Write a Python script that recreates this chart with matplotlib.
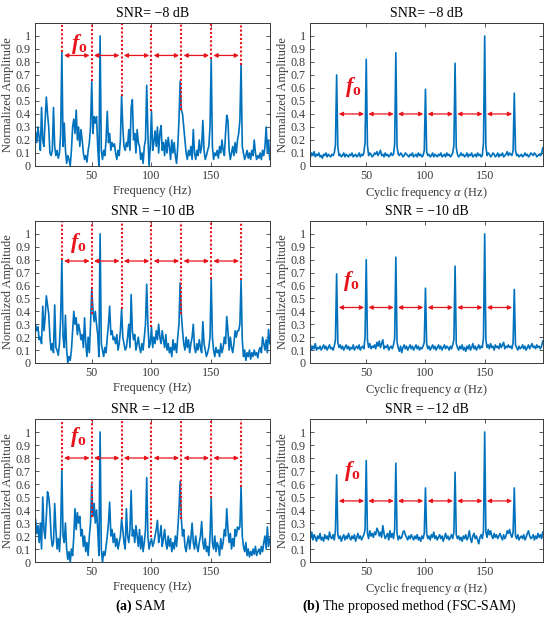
import numpy as np
import matplotlib.pyplot as plt

plt.rcParams['font.family'] = ['Liberation Serif', 'DejaVu Serif']
plt.rcParams['mathtext.fontset'] = 'custom'
plt.rcParams['mathtext.rm'] = 'Liberation Serif'
plt.rcParams['mathtext.it'] = 'Liberation Serif:italic'
plt.rcParams['mathtext.bf'] = 'Liberation Serif:bold'
plt.rcParams['mathtext.bfit'] = 'Liberation Serif:italic:bold'

# frequency grid (Hz), 1 Hz steps
freq = np.arange(2, 200)

# SAM spectra (left column)
sam_m8 = [
    0.20, 0.26, 0.18, 0.30, 0.22, 0.12, 0.45, 0.20, 0.15, 0.35,
    0.53, 0.40, 0.30, 0.10, 0.08, 0.12, 0.45, 0.15, 0.08, 0.12,
    0.06, 0.10, 0.25, 0.88, 0.15, 0.33, 0.12, 0.02, 0.08, 0.05,
    0.00, 0.12, 0.30, 0.36, 0.25, 0.43, 0.20, 0.30, 0.15, 0.28,
    0.20, 0.10, 0.05, 0.08, 0.03, 0.12, 0.18, 0.30, 0.65, 0.25,
    0.38, 0.33, 0.38, 0.15, 0.00, 1.00, 0.12, 0.05, 0.12, 0.08,
    0.20, 0.42, 0.18, 0.25, 0.12, 0.18, 0.15, 0.17, 0.10, 0.05,
    0.12, 0.08, 0.20, 0.54, 0.30, 0.15, 0.12, 0.18, 0.15, 0.28,
    0.12, 0.45, 0.51, 0.20, 0.25, 0.10, 0.28, 0.18, 0.15, 0.05,
    0.10, 0.02, 0.15, 0.20, 0.62, 0.25, 0.00, 0.15, 0.42, 0.12,
    0.18, 0.27, 0.15, 0.30, 0.10, 0.25, 0.31, 0.12, 0.18, 0.08,
    0.20, 0.10, 0.22, 0.15, 0.05, 0.20, 0.10, 0.18, 0.08, 0.02,
    0.15, 0.35, 0.65, 0.43, 0.40, 0.30, 0.20, 0.10, 0.05, 0.12,
    0.08, 0.15, 0.05, 0.28, 0.10, 0.05, 0.12, 0.08, 0.20, 0.10,
    0.15, 0.35, 0.12, 0.05, 0.08, 0.12, 0.15, 0.30, 0.82, 0.15,
    0.05, 0.10, 0.08, 0.12, 0.06, 0.15, 0.10, 0.20, 0.12, 0.08,
    0.25, 0.39, 0.35, 0.12, 0.05, 0.10, 0.15, 0.08, 0.18, 0.10,
    0.20, 0.25, 0.35, 0.78, 0.15, 0.10, 0.05, 0.08, 0.12, 0.06,
    0.10, 0.05, 0.12, 0.08, 0.20, 0.10, 0.05, 0.08, 0.06, 0.10,
    0.05, 0.12, 0.08, 0.15, 0.30, 0.10, 0.20, 0.05,
]
sam_m10 = [
    0.22, 0.30, 0.25, 0.28, 0.18, 0.20, 0.15, 0.44, 0.25, 0.35,
    0.52, 0.45, 0.38, 0.20, 0.10, 0.15, 0.08, 0.45, 0.12, 0.10,
    0.06, 0.15, 0.35, 0.80, 0.20, 0.12, 0.37, 0.10, 0.00, 0.05,
    0.02, 0.10, 0.25, 0.40, 0.30, 0.35, 0.22, 0.30, 0.25, 0.18,
    0.22, 0.12, 0.35, 0.15, 0.05, 0.20, 0.08, 0.30, 0.57, 0.42,
    0.32, 0.40, 0.30, 0.22, 0.05, 1.00, 0.15, 0.10, 0.05, 0.12,
    0.08, 0.20, 0.30, 0.44, 0.22, 0.25, 0.18, 0.20, 0.15, 0.22,
    0.10, 0.15, 0.25, 0.42, 0.20, 0.15, 0.10, 0.12, 0.20, 0.30,
    0.12, 0.53, 0.25, 0.18, 0.22, 0.10, 0.15, 0.20, 0.12, 0.08,
    0.15, 0.10, 0.20, 0.30, 0.61, 0.30, 0.12, 0.15, 0.28, 0.12,
    0.20, 0.15, 0.25, 0.18, 0.30, 0.20, 0.15, 0.25, 0.18, 0.12,
    0.22, 0.10, 0.15, 0.08, 0.12, 0.05, 0.18, 0.10, 0.15, 0.08,
    0.20, 0.30, 0.62, 0.38, 0.25, 0.15, 0.10, 0.20, 0.12, 0.18,
    0.08, 0.15, 0.20, 0.30, 0.12, 0.08, 0.15, 0.10, 0.18, 0.12,
    0.08, 0.32, 0.15, 0.10, 0.05, 0.08, 0.12, 0.20, 0.65, 0.20,
    0.10, 0.05, 0.12, 0.08, 0.10, 0.05, 0.15, 0.08, 0.12, 0.20,
    0.15, 0.36, 0.25, 0.10, 0.20, 0.12, 0.08, 0.15, 0.25, 0.20,
    0.25, 0.25, 0.30, 0.64, 0.18, 0.05, 0.10, 0.02, 0.08, 0.05,
    0.10, 0.03, 0.08, 0.05, 0.10, 0.06, 0.08, 0.04, 0.10, 0.12,
    0.08, 0.20, 0.15, 0.10, 0.18, 0.08, 0.26, 0.15,
]
sam_m12 = [
    0.20, 0.33, 0.22, 0.28, 0.15, 0.30, 0.10, 0.50, 0.25, 0.18,
    0.35, 0.54, 0.50, 0.40, 0.20, 0.12, 0.15, 0.45, 0.25, 0.10,
    0.18, 0.08, 0.25, 0.71, 0.20, 0.15, 0.30, 0.10, 0.02, 0.08,
    0.00, 0.10, 0.05, 0.20, 0.41, 0.25, 0.38, 0.30, 0.35, 0.20,
    0.25, 0.12, 0.20, 0.08, 0.15, 0.05, 0.20, 0.30, 0.60, 0.35,
    0.45, 0.30, 0.40, 0.25, 0.05, 1.00, 0.10, 0.00, 0.08, 0.05,
    0.12, 0.20, 0.30, 0.46, 0.20, 0.25, 0.15, 0.22, 0.12, 0.18,
    0.10, 0.15, 0.20, 0.33, 0.25, 0.15, 0.10, 0.41, 0.20, 0.15,
    0.25, 0.55, 0.20, 0.25, 0.15, 0.28, 0.20, 0.12, 0.25, 0.10,
    0.20, 0.08, 0.15, 0.25, 0.65, 0.20, 0.10, 0.15, 0.18, 0.12,
    0.15, 0.20, 0.25, 0.32, 0.15, 0.20, 0.28, 0.12, 0.18, 0.25,
    0.15, 0.10, 0.20, 0.12, 0.18, 0.08, 0.15, 0.10, 0.20, 0.12,
    0.25, 0.40, 0.62, 0.33, 0.20, 0.25, 0.12, 0.08, 0.15, 0.20,
    0.10, 0.18, 0.30, 0.15, 0.10, 0.20, 0.12, 0.08, 0.15, 0.20,
    0.31, 0.15, 0.10, 0.18, 0.08, 0.12, 0.05, 0.20, 0.49, 0.15,
    0.10, 0.20, 0.08, 0.15, 0.12, 0.05, 0.18, 0.10, 0.15, 0.25,
    0.20, 0.41, 0.25, 0.15, 0.22, 0.10, 0.18, 0.12, 0.25, 0.20,
    0.27, 0.25, 0.27, 0.58, 0.20, 0.12, 0.08, 0.15, 0.05, 0.10,
    0.04, 0.08, 0.05, 0.10, 0.06, 0.12, 0.05, 0.08, 0.10, 0.06,
    0.12, 0.08, 0.15, 0.20, 0.10, 0.27, 0.12, 0.18,
]

# FSC-SAM spectra (right column)
fsc_m8 = [
    0.09, 0.07, 0.10, 0.08, 0.11, 0.07, 0.09, 0.08, 0.10,
    0.07, 0.08, 0.06, 0.09, 0.08, 0.10, 0.07, 0.09, 0.08, 0.07,
    0.09, 0.08, 0.10, 0.16, 0.70, 0.15, 0.08, 0.09, 0.07, 0.08,
    0.10, 0.07, 0.09, 0.08, 0.07, 0.09, 0.08, 0.10, 0.07, 0.08,
    0.09, 0.07, 0.08, 0.10, 0.07, 0.09, 0.08, 0.10, 0.18, 0.82,
    0.16, 0.08, 0.10, 0.09, 0.07, 0.08, 0.10, 0.09, 0.11, 0.08,
    0.10, 0.12, 0.08, 0.09, 0.07, 0.10, 0.08, 0.09, 0.07, 0.08,
    0.10, 0.08, 0.09, 0.17, 0.87, 0.15, 0.09, 0.08, 0.10, 0.09,
    0.07, 0.08, 0.10, 0.09, 0.08, 0.07, 0.09, 0.08, 0.10, 0.07,
    0.08, 0.09, 0.07, 0.10, 0.08, 0.09, 0.07, 0.08, 0.12, 0.59,
    0.11, 0.08, 0.09, 0.07, 0.08, 0.10, 0.07, 0.09, 0.08, 0.07,
    0.09, 0.08, 0.10, 0.07, 0.08, 0.09, 0.07, 0.10, 0.08, 0.09,
    0.07, 0.08, 0.10, 0.16, 0.79, 0.14, 0.09, 0.07, 0.08, 0.10,
    0.08, 0.09, 0.07, 0.08, 0.10, 0.07, 0.09, 0.08, 0.10, 0.07,
    0.08, 0.09, 0.07, 0.10, 0.08, 0.09, 0.07, 0.08, 0.18, 1.00,
    0.15, 0.08, 0.10, 0.09, 0.07, 0.08, 0.10, 0.09, 0.07, 0.08,
    0.10, 0.07, 0.09, 0.08, 0.10, 0.07, 0.08, 0.09, 0.11, 0.08,
    0.10, 0.09, 0.08, 0.12, 0.56, 0.12, 0.08, 0.09, 0.07, 0.08,
    0.09, 0.07, 0.08, 0.10, 0.08, 0.09, 0.07, 0.08, 0.10, 0.09,
    0.08, 0.10, 0.09, 0.07, 0.08, 0.09, 0.08, 0.09, 0.14,
]
fsc_m10 = [
    0.12, 0.14, 0.10, 0.13, 0.11, 0.15, 0.10, 0.12, 0.11,
    0.13, 0.10, 0.12, 0.14, 0.11, 0.13, 0.10, 0.12, 0.14, 0.11,
    0.12, 0.10, 0.13, 0.18, 0.69, 0.16, 0.12, 0.14, 0.11, 0.13,
    0.10, 0.12, 0.14, 0.11, 0.13, 0.10, 0.12, 0.11, 0.14, 0.10,
    0.12, 0.13, 0.11, 0.14, 0.10, 0.12, 0.13, 0.11, 0.20, 0.80,
    0.18, 0.12, 0.15, 0.11, 0.13, 0.12, 0.14, 0.11, 0.16, 0.13,
    0.17, 0.12, 0.15, 0.18, 0.11, 0.13, 0.12, 0.14, 0.10, 0.12,
    0.13, 0.11, 0.14, 0.19, 0.82, 0.16, 0.12, 0.09, 0.13, 0.08,
    0.12, 0.14, 0.11, 0.13, 0.10, 0.12, 0.14, 0.11, 0.13, 0.10,
    0.12, 0.14, 0.11, 0.13, 0.10, 0.12, 0.11, 0.13, 0.16, 0.58,
    0.15, 0.11, 0.13, 0.10, 0.12, 0.14, 0.11, 0.13, 0.10, 0.12,
    0.14, 0.11, 0.13, 0.10, 0.12, 0.14, 0.11, 0.13, 0.12, 0.10,
    0.13, 0.11, 0.14, 0.18, 0.75, 0.15, 0.12, 0.10, 0.13, 0.11,
    0.14, 0.10, 0.12, 0.09, 0.13, 0.11, 0.14, 0.10, 0.12, 0.15,
    0.11, 0.13, 0.10, 0.12, 0.14, 0.11, 0.13, 0.12, 0.20, 1.00,
    0.18, 0.12, 0.14, 0.11, 0.15, 0.12, 0.13, 0.10, 0.14, 0.12,
    0.13, 0.11, 0.15, 0.12, 0.14, 0.16, 0.11, 0.13, 0.12, 0.14,
    0.12, 0.13, 0.11, 0.16, 0.57, 0.14, 0.12, 0.10, 0.13, 0.11,
    0.12, 0.14, 0.11, 0.13, 0.10, 0.12, 0.14, 0.11, 0.13, 0.15,
    0.12, 0.13, 0.11, 0.14, 0.12, 0.13, 0.11, 0.13, 0.17,
]
fsc_m12 = [
    0.20, 0.18, 0.23, 0.17, 0.21, 0.19, 0.16, 0.20, 0.18,
    0.22, 0.17, 0.19, 0.16, 0.21, 0.18, 0.20, 0.17, 0.23, 0.19,
    0.18, 0.21, 0.17, 0.24, 0.67, 0.21, 0.18, 0.20, 0.16, 0.19,
    0.21, 0.17, 0.20, 0.18, 0.22, 0.19, 0.17, 0.20, 0.18, 0.21,
    0.16, 0.19, 0.22, 0.18, 0.20, 0.17, 0.19, 0.21, 0.25, 0.78,
    0.22, 0.18, 0.24, 0.20, 0.22, 0.19, 0.23, 0.21, 0.26, 0.24,
    0.20, 0.23, 0.19, 0.28, 0.22, 0.18, 0.20, 0.22, 0.17, 0.24,
    0.19, 0.22, 0.18, 0.25, 0.76, 0.22, 0.17, 0.20, 0.18, 0.19,
    0.23, 0.24, 0.21, 0.19, 0.17, 0.20, 0.18, 0.21, 0.19, 0.17,
    0.20, 0.18, 0.21, 0.17, 0.19, 0.16, 0.20, 0.18, 0.22, 0.57,
    0.22, 0.18, 0.20, 0.17, 0.21, 0.19, 0.23, 0.18, 0.20, 0.17,
    0.19, 0.21, 0.18, 0.20, 0.16, 0.19, 0.22, 0.18, 0.20, 0.17,
    0.19, 0.21, 0.18, 0.23, 0.69, 0.21, 0.18, 0.20, 0.17, 0.19,
    0.16, 0.20, 0.18, 0.21, 0.17, 0.19, 0.24, 0.18, 0.15, 0.20,
    0.22, 0.18, 0.20, 0.17, 0.14, 0.19, 0.21, 0.18, 0.24, 1.00,
    0.23, 0.19, 0.25, 0.21, 0.24, 0.20, 0.18, 0.22, 0.19, 0.21,
    0.18, 0.20, 0.22, 0.19, 0.17, 0.21, 0.18, 0.20, 0.24, 0.22,
    0.25, 0.21, 0.19, 0.23, 0.57, 0.20, 0.18, 0.21, 0.17, 0.19,
    0.20, 0.18, 0.21, 0.17, 0.19, 0.22, 0.24, 0.20, 0.18, 0.19,
    0.21, 0.17, 0.20, 0.18, 0.22, 0.19, 0.21, 0.18, 0.23,
]

harmonics = [25, 50, 75, 100, 125, 150, 175]
# where the red dotted markers stop on the SAM panels
sam_line_ends = [
    [0.88, 0.65, 0.54, 0.42, 0.43, 0.82, 0.78],
    [0.80, 0.38, 0.42, 0.28, 0.38, 0.65, 0.64],
    [0.71, 0.35, 0.33, 0.19, 0.33, 0.49, 0.58],
]
sam_arrow_y = [0.85, 0.79, 0.80]
fsc_arrow_y = [0.40, 0.43, 0.47]
sam_label_pos = [(33, 0.90), (31.5, 0.89), (32, 0.92)]
fsc_label_pos = [(32, 0.57), (30, 0.60), (31, 0.66)]
titles = ['SNR= \u22128 dB', 'SNR = \u221210 dB', 'SNR = \u221212 dB']

blue = '#0072BD'
red = '#E8141C'
axis_grey = '#3a3a3a'

fig = plt.figure(figsize=(5.5, 6.17), dpi=100)
rows = [(0.7310, 0.2318), (0.4117, 0.2301), (0.0891, 0.2318)]
cols = [(0.0636, 0.4273), (0.5636, 0.4236)]


def style_axes(ax, title, xlabel):
    ax.set_xlim(2.5, 199.2)
    ax.set_ylim(0, 1.1)
    ax.set_xticks([50, 100, 150])
    ax.set_yticks(np.arange(0, 1.01, 0.1))
    ax.set_yticklabels(['0'] + ['%.1f' % v for v in np.arange(0.1, 0.95, 0.1)] + ['1'])
    ax.tick_params(direction='in', length=3, width=0.6, top=True, right=True,
                   labelsize=8.7, colors=axis_grey, pad=3)
    for s in ax.spines.values():
        s.set_color(axis_grey)
        s.set_linewidth(0.7)
    ax.set_title(title, fontsize=10, pad=4)
    ax.set_xlabel(xlabel, fontsize=9, color=axis_grey, labelpad=2)
    ax.set_ylabel('Normalized Amplitude', fontsize=9, color=axis_grey, labelpad=1)


def draw_arrows(ax, y):
    for a, b in zip(harmonics[:-1], harmonics[1:]):
        ax.annotate('', xy=(b - 1.8, y), xytext=(a + 1.8, y),
                    arrowprops=dict(arrowstyle='<|-|>', color=red, lw=0.9,
                                    mutation_scale=6, shrinkA=0, shrinkB=0))


sam_sets = [sam_m8, sam_m10, sam_m12]
fsc_sets = [fsc_m8, fsc_m10, fsc_m12]

for i in range(3):
    # left: SAM
    ax = fig.add_axes([cols[0][0], rows[i][0], cols[0][1], rows[i][1]])
    ax.plot(freq, sam_sets[i], color=blue, lw=1.2)
    for h, e in zip(harmonics, sam_line_ends[i]):
        ax.plot([h, h], [e, 1.1], color=red, lw=1.5, ls=(0, (1, 1)))
    draw_arrows(ax, sam_arrow_y[i])
    ax.text(sam_label_pos[i][0], sam_label_pos[i][1], r'$\mathbfit{f}_{\mathbf{o}}$',
            color=red, fontsize=16, va='baseline')
    style_axes(ax, titles[i], 'Frequency (Hz)')

    # right: FSC-SAM
    ax = fig.add_axes([cols[1][0], rows[i][0], cols[1][1], rows[i][1]])
    ax.plot(freq, fsc_sets[i], color=blue, lw=1.2)
    draw_arrows(ax, fsc_arrow_y[i])
    ax.text(fsc_label_pos[i][0], fsc_label_pos[i][1], r'$\mathbfit{f}_{\mathbf{o}}$',
            color=red, fontsize=16, va='baseline')
    style_axes(ax, titles[i], r'Cyclic frequency $\mathit{\alpha}$ (Hz)')

fig.text(0.255, 0.012, r'$\mathbf{(a)}$ SAM', ha='center', fontsize=10)
fig.text(0.745, 0.012, r'$\mathbf{(b)}$ The proposed method (FSC-SAM)', ha='center', fontsize=10)

fig.savefig('out.png', dpi=100)
